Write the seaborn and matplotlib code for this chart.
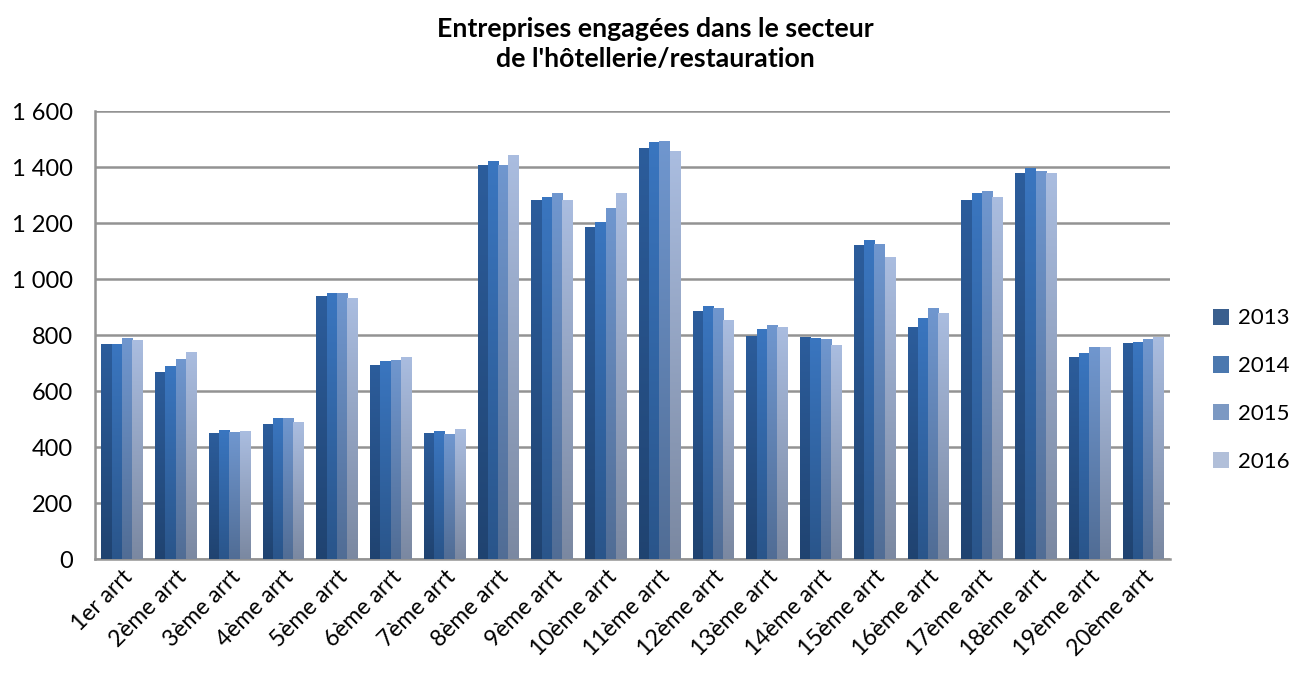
import numpy as np
import pandas as pd
import seaborn as sns
import matplotlib.pyplot as plt
from matplotlib.colors import to_rgb
from matplotlib.ticker import FuncFormatter

# data
arrondissements = ["1er arrt", "2ème arrt", "3ème arrt", "4ème arrt", "5ème arrt",
                   "6ème arrt", "7ème arrt", "8ème arrt", "9ème arrt", "10ème arrt",
                   "11ème arrt", "12ème arrt", "13ème arrt", "14ème arrt", "15ème arrt",
                   "16ème arrt", "17ème arrt", "18ème arrt", "19ème arrt", "20ème arrt"]
years = ["2013", "2014", "2015", "2016"]
v2013 = [768, 667, 450, 482, 941, 694, 450, 1408, 1282, 1185,
         1469, 884, 798, 794, 1121, 830, 1282, 1379, 722, 773]
v2014 = [768, 689, 460, 504, 949, 708, 457, 1422, 1293, 1203,
         1490, 902, 823, 791, 1139, 862, 1307, 1397, 737, 776]
v2015 = [789, 715, 453, 504, 949, 712, 446, 1408, 1307, 1254,
         1494, 895, 837, 787, 1124, 895, 1315, 1386, 758, 787]
v2016 = [783, 740, 457, 489, 931, 722, 464, 1444, 1282, 1307,
         1458, 852, 830, 766, 1078, 880, 1293, 1379, 758, 794]

colors = ["#2c5d9c", "#3a76c0", "#7097cf", "#aabde0"]

df = pd.DataFrame({"arrt": arrondissements * 4,
                   "annee": np.repeat(years, len(arrondissements)),
                   "n": v2013 + v2014 + v2015 + v2016})

sns.set_style("white")
plt.rcParams['font.family'] = ['Lato', 'DejaVu Sans']
plt.rcParams['text.color'] = 'black'
plt.rcParams['xtick.color'] = 'black'
plt.rcParams['ytick.color'] = 'black'

fig = plt.figure(figsize=(12.92, 6.74), dpi=100)
ax = fig.add_axes([95 / 1292, 1 - 559 / 674, 1075 / 1292, 448 / 674])

sns.barplot(data=df, x="arrt", y="n", hue="annee", palette=colors,
            width=0.76, ax=ax, zorder=3, linewidth=0)

# vertical gradient on each bar (Excel look)
for cont, c in zip(ax.containers, colors):
    top = np.array(to_rgb(c))
    bot = top * 0.72
    grad = np.linspace(bot, top, 256).reshape(256, 1, 3)
    for p in cont.patches:
        x, w, h = p.get_x(), p.get_width(), p.get_height()
        im = ax.imshow(grad, extent=[x, x + w, 0, h], aspect="auto",
                       origin="lower", zorder=3.5, interpolation="bilinear")
        im.set_clip_path(p)

ax.set_xlim(-0.5, len(arrondissements) - 0.5)
ax.set_ylim(0, 1600)
ax.set_yticks(range(0, 1601, 200))
ax.yaxis.set_major_formatter(FuncFormatter(lambda v, _: f"{int(v):,}".replace(",", " ")))
ax.grid(axis="y", color="#939393", linewidth=1.8, zorder=0)
ax.set_axisbelow(True)
for s in ["top", "right"]:
    ax.spines[s].set_visible(False)
for s in ["left", "bottom"]:
    ax.spines[s].set_color("#939393")
    ax.spines[s].set_linewidth(1.8)

ax.set_xlabel("")
ax.set_ylabel("")
ax.tick_params(axis="y", labelsize=17, length=0, pad=16, labelcolor="black")
ax.tick_params(axis="x", labelsize=16.5, length=0, pad=5, labelcolor="black")
plt.setp(ax.get_xticklabels(), rotation=45, ha="right", rotation_mode="anchor")

leg = ax.legend(loc="center left", bbox_to_anchor=(1.019, 0.377), frameon=False,
                fontsize=16, labelspacing=1.25, handlelength=0.75, handleheight=0.75,
                handletextpad=0.4, borderaxespad=0.6)
for t in leg.get_texts():
    t.set_color("black")

fig.suptitle("Entreprises engagées dans le secteur\nde l'hôtellerie/restauration",
             x=0.507, y=0.975, fontsize=19.3, fontweight="bold", linespacing=1.3,
             color="black")

fig.savefig("out.png", dpi=100)
